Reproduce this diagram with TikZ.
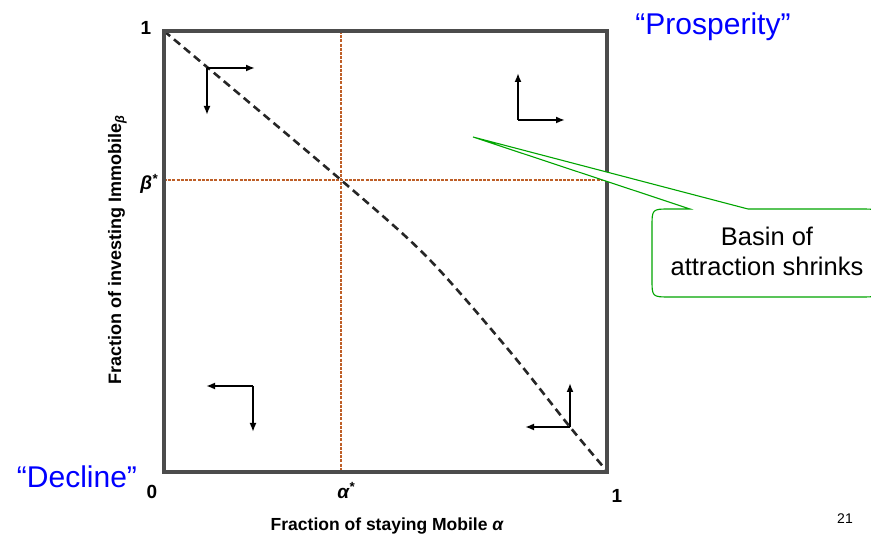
\documentclass[tikz,border=0pt]{standalone}
\usepackage{fontspec}
\setmainfont{Liberation Sans}
\usetikzlibrary{arrows.meta}

\definecolor{quoteblue}{RGB}{0,0,255}
\definecolor{crossbrown}{RGB}{190,95,40}
\definecolor{notegreen}{RGB}{0,165,0}

\begin{document}
\begin{tikzpicture}[
  x=1pt, y=-1pt,
  >={Latex[length=9pt,width=7pt]},
  frame/.style={draw=black!70, line width=3.4pt},
  crossline/.style={crossbrown, line width=1.5pt, dash pattern=on 3pt off 1.2pt},
  border/.style={black!85, line width=2.6pt, dash pattern=on 8pt off 5pt},
  flow/.style={->, line width=2.6pt},
  tick/.style={font=\bfseries\fontsize{19}{19}\selectfont, anchor=base},
  axislabel/.style={font=\bfseries\fontsize{17.5}{17.5}\selectfont, anchor=base},
  quote/.style={text=quoteblue, font=\fontsize{30}{30}\selectfont, anchor=base},
  note/.style={draw=notegreen, line width=1.1pt, fill=white}
]
\useasboundingbox (0,0) rectangle (871,537);
\clip (0,0) rectangle (871,537);

% thresholds
\draw[crossline] (341,31) -- (341,472);
\draw[crossline] (164,180) -- (607,180);

% separatrix
\draw[border] plot[smooth, tension=0.5] coordinates {(164,31) (341,180) (427,257) (507,348) (570,427) (606,470)};

% flow directions
\coordinate (tl) at (207,68);
\coordinate (tr) at (518,120);
\coordinate (bl) at (253,386);
\coordinate (br) at (570,427);
\draw[flow] (tl) -- ++(48,0);
\draw[flow] (tl) -- ++(0,47);
\draw[flow] (tr) -- ++(0,-47);
\draw[flow] (tr) -- ++(47,0);
\draw[flow] (bl) -- ++(-47,0);
\draw[flow] (bl) -- ++(0,46);
\draw[flow] (br) -- ++(0,-44);
\draw[flow] (br) -- ++(-45,0);

% box
\draw[frame] (164,31) rectangle (607,472);

% ticks
\node[tick] (ytop) at (146,35) {1};
\node[tick] (ybeta) at (149,190) {\itshape β\textsuperscript{*}};
\node[tick] (orig) at (152,498) {0};
\node[tick] (xalpha) at (346,498) {\itshape α\textsuperscript{*}};
\node[tick] (xone) at (617,502) {1};

% axis titles
\node[axislabel] (xlab) at (387,530) {Fraction of staying Mobile \itshape α};
\node[axislabel, rotate=90, font=\bfseries\fontsize{18}{18}\selectfont] (ylab) at (121,250) {Fraction of investing Immobile\textsubscript{\itshape β}};

% regimes
\node[quote] (prosp) at (713,35) {“Prosperity”};
\node[quote] (decl) at (77,488) {“Decline”};

% callout
\draw[note] (473,137) -- (748,209) -- (860,209) .. controls (880,209) .. (880,229) -- (880,277)
  .. controls (880,297) .. (860,297) -- (670,297) .. controls (652,297) .. (652,279)
  -- (652,227) .. controls (652,209) .. (670,209) -- (690,209) -- cycle;
\node[align=center, font=\fontsize{25.5}{30}\selectfont] (basin) at (767,251) {Basin of\\attraction shrinks};

\node[font=\fontsize{14}{14}\selectfont, anchor=base] (page) at (845,523) {21};
\end{tikzpicture}
\end{document}
